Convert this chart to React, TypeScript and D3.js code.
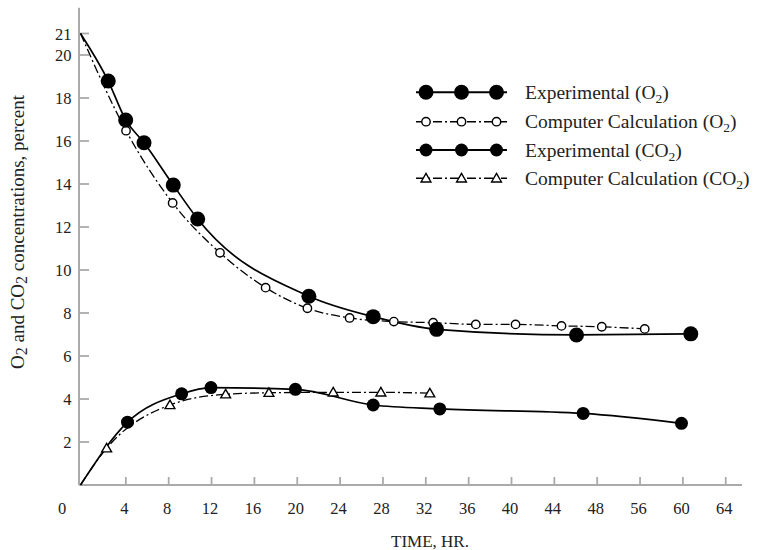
import React from "react";
import * as d3 from "d3";

// ---- Data (time in plotted hours, value in percent) ----
const o2ExpTime = [2.59, 4.22, 5.93, 8.66, 10.94, 21.32, 27.32, 33.24, 46.3, 56.97];
const o2ExpValue = [18.79, 16.98, 15.92, 13.95, 12.37, 8.78, 7.83, 7.24, 6.98, 7.03];

const o2CalcTime = [4.25, 8.6, 13.02, 17.28, 21.18, 25.12, 29.25, 32.92, 36.9, 40.61, 44.9, 48.66, 52.67];
const o2CalcValue = [16.48, 13.12, 10.8, 9.18, 8.22, 7.77, 7.6, 7.55, 7.47, 7.47, 7.4, 7.36, 7.26];

const co2ExpTime = [4.39, 9.44, 12.18, 20.06, 27.32, 33.54, 46.92, 56.1];
const co2ExpValue = [2.92, 4.24, 4.53, 4.45, 3.72, 3.54, 3.33, 2.87];

const co2CalcTime = [2.44, 8.35, 13.55, 17.59, 23.59, 28.04, 32.61];
const co2CalcValue = [1.71, 3.72, 4.22, 4.29, 4.31, 4.31, 4.27];

const O2_START = 21;
const CO2_START = 0;

const xTickValues = [4, 8, 12, 16, 20, 24, 28, 32, 36, 40, 44, 48, 52, 56, 60];
const xTickLabels = ["4", "8", "12", "16", "20", "24", "28", "32", "36", "40", "44", "48", "56", "60", "64"];
const yTickValues = [2, 4, 6, 8, 10, 12, 14, 16, 18, 20, 21];

const legendLabels: [string, string, string][] = [
  ["Experimental (O", "2", ")"],
  ["Computer Calculation (O", "2", ")"],
  ["Experimental (CO", "2", ")"],
  ["Computer Calculation (CO", "2", ")"],
];
const legendKinds = ["bigDot", "openCircle", "dot", "triangle"];
const legendDashed = [false, true, false, true];

const FONT = "'Liberation Serif', 'Times New Roman', serif";
const DASH = "9,3,2,3";
const AXIS_COLOR = "#aaaaaa";

function Marker({ kind, cx, cy }: { kind: string; cx: number; cy: number }) {
  if (kind === "bigDot") return <circle cx={cx} cy={cy} r={7.5} fill="#000" />;
  if (kind === "dot") return <circle cx={cx} cy={cy} r={6.5} fill="#000" />;
  if (kind === "openCircle")
    return <circle cx={cx} cy={cy} r={4.2} fill="#fff" stroke="#000" strokeWidth={1.4} />;
  const tri = d3.symbol().type(d3.symbolTriangle).size(42)();
  return (
    <path d={tri || ""} transform={`translate(${cx},${cy + 0.8})`} fill="#fff" stroke="#000" strokeWidth={1.4} />
  );
}

export default function App() {
  const W = 775, H = 550;
  const x = d3.scaleLinear().domain([0, 61.75]).range([80.5, 742]);
  const y = d3.scaleLinear().domain([0, 22.2]).range([485, 7.7]);

  const line = d3
    .line<[number, number]>()
    .x((d) => x(d[0]))
    .y((d) => y(d[1]))
    .curve(d3.curveMonotoneX);

  const zip = (t: number[], v: number[]) => t.map((ti, i) => [ti, v[i]] as [number, number]);
  const o2Exp = zip(o2ExpTime, o2ExpValue);
  const o2Calc = zip(o2CalcTime, o2CalcValue);
  const co2Exp = zip(co2ExpTime, co2ExpValue);
  const co2Calc = zip(co2CalcTime, co2CalcValue);

  const x0 = 79;
  const y0 = y(0);

  const legendX1 = 416, legendX2 = 507;
  const legendMarkX = [426, 461.5, 496.5];
  const legendY = [92.3, 121.7, 150, 178.3];

  return (
    <svg width={W} height={H} style={{ position: "absolute", left: 0, top: 0, background: "#fff" }} fontFamily={FONT}>
      <rect width={W} height={H} fill="#fff" />
      {/* axes */}
      <line x1={x0} y1={y0} x2={x.range()[1]} y2={y0} stroke={AXIS_COLOR} strokeWidth={2} />
      <line x1={x0} y1={y0} x2={x0} y2={y.range()[1]} stroke={AXIS_COLOR} strokeWidth={2} />
      {xTickValues.map((v, i) => (
        <g key={"xt" + i}>
          <line x1={x(v) + 2.5} x2={x(v) + 2.5} y1={y0} y2={y0 - 8} stroke={AXIS_COLOR} strokeWidth={1.8} />
          <text x={x(v) + 1} y={513.5} textAnchor="middle" fontSize={16.5} fill="#222">
            {xTickLabels[i]}
          </text>
        </g>
      ))}
      {yTickValues.map((v, i) => (
        <g key={"yt" + i}>
          <line x1={x0} x2={x0 + 10} y1={y(v)} y2={y(v)} stroke={AXIS_COLOR} strokeWidth={1.8} />
          <text x={71.5} y={y(v) + 6} textAnchor="end" fontSize={16.5} fill="#222">
            {v}
          </text>
        </g>
      ))}
      <text x={62} y={513.5} textAnchor="middle" fontSize={16.5} fill="#222">0</text>

      {/* axis titles */}
      <text x={430} y={546.5} textAnchor="middle" fontSize={17} fill="#222">
        TIME, HR.
      </text>
      <text transform={`translate(24,${232}) rotate(-90)`} textAnchor="middle" fontSize={19} fill="#222">
        O<tspan fontSize={16} dy={3}>2</tspan>
        <tspan dy={-3}> and CO</tspan>
        <tspan fontSize={16} dy={3}>2</tspan>
        <tspan dy={-3}> concentrations, percent</tspan>
      </text>

      {/* curves */}
      <path d={line([[0, O2_START], ...o2Exp]) || ""} fill="none" stroke="#000" strokeWidth={1.7} />
      <path d={line([[0, O2_START], ...o2Calc]) || ""} fill="none" stroke="#000" strokeWidth={1.3} strokeDasharray={DASH} />
      <path d={line([[0, CO2_START], ...co2Exp]) || ""} fill="none" stroke="#000" strokeWidth={1.7} />
      <path d={line([[0, CO2_START], ...co2Calc]) || ""} fill="none" stroke="#000" strokeWidth={1.3} strokeDasharray={DASH} />

      {/* markers */}
      {o2Calc.map((d, i) => <Marker key={"oc" + i} kind="openCircle" cx={x(d[0])} cy={y(d[1])} />)}
      {co2Calc.map((d, i) => <Marker key={"cc" + i} kind="triangle" cx={x(d[0])} cy={y(d[1])} />)}
      {o2Exp.map((d, i) => <Marker key={"oe" + i} kind="bigDot" cx={x(d[0])} cy={y(d[1])} />)}
      {co2Exp.map((d, i) => <Marker key={"ce" + i} kind="dot" cx={x(d[0])} cy={y(d[1])} />)}

      {/* legend */}
      {legendLabels.map((lab, i) => (
        <g key={"lg" + i}>
          <line
            x1={legendX1}
            x2={legendX2}
            y1={legendY[i]}
            y2={legendY[i]}
            stroke="#000"
            strokeWidth={legendDashed[i] ? 1.4 : 2}
            strokeDasharray={legendDashed[i] ? DASH : undefined}
          />
          {legendMarkX.map((mx, j) => (
            <Marker key={j} kind={legendKinds[i]} cx={mx} cy={legendY[i]} />
          ))}
          <text x={525} y={legendY[i] + 6.5} fontSize={19.5} fill="#222">
            {lab[0]}
            <tspan fontSize={13.5} dy={4}>{lab[1]}</tspan>
            <tspan dy={-4}>{lab[2]}</tspan>
          </text>
        </g>
      ))}
    </svg>
  );
}
